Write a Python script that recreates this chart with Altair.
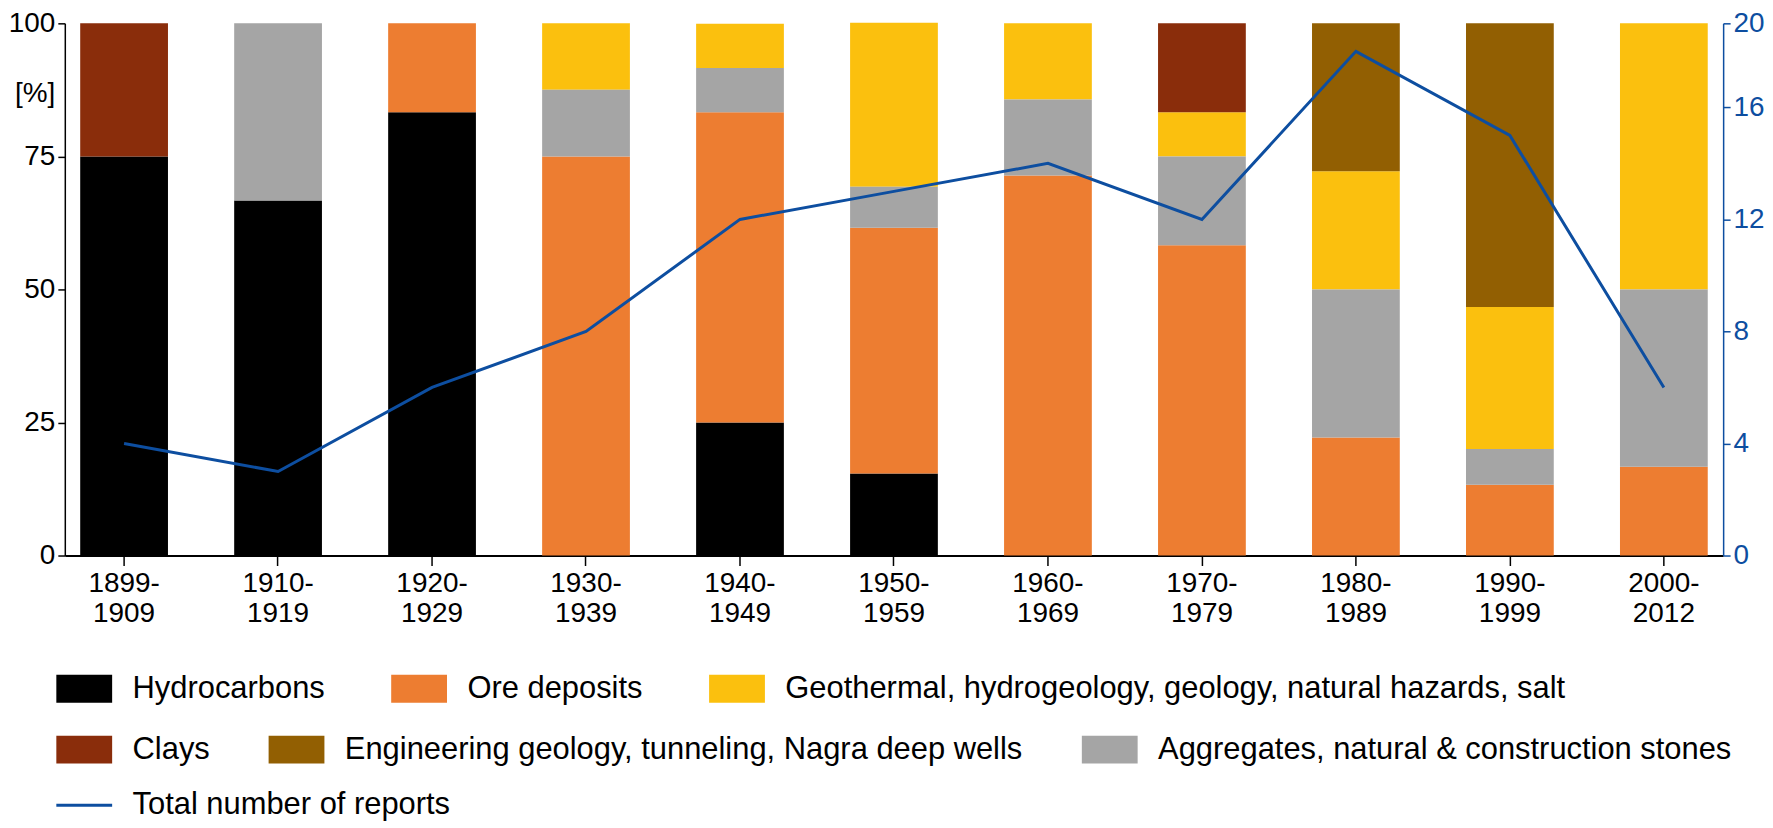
import altair as alt
import pandas as pd

# ---------------- data ----------------
decades = ["1899-1909", "1910-1919", "1920-1929", "1930-1939", "1940-1949",
           "1950-1959", "1960-1969", "1970-1979", "1980-1989", "1990-1999",
           "2000-2012"]

hydrocarbons = [75.0, 66.7, 83.3, 0.0, 25.0, 15.4, 0.0, 0.0, 0.0, 0.0, 0.0]
ore_deposits = [0.0, 0.0, 16.7, 75.0, 58.3, 46.2, 71.4, 58.3, 22.2, 13.3, 16.7]
aggregates = [0.0, 33.3, 0.0, 12.5, 8.3, 7.7, 14.3, 16.7, 27.8, 6.7, 33.3]
geothermal = [0.0, 0.0, 0.0, 12.5, 8.3, 30.8, 14.3, 8.3, 22.2, 26.7, 50.0]
engineering = [0.0, 0.0, 0.0, 0.0, 0.0, 0.0, 0.0, 0.0, 27.8, 53.3, 0.0]
clays = [25.0, 0.0, 0.0, 0.0, 0.0, 0.0, 0.0, 16.7, 0.0, 0.0, 0.0]

total_reports = [4, 3, 6, 8, 12, 13, 14, 12, 18, 15, 6]

CAT_HYDRO = "Hydrocarbons"
CAT_ORE = "Ore deposits"
CAT_GEO = "Geothermal, hydrogeology, geology, natural hazards, salt"
CAT_CLAY = "Clays"
CAT_ENG = "Engineering geology, tunneling, Nagra deep wells"
CAT_AGG = "Aggregates, natural & construction stones"
LINE_NAME = "Total number of reports"

# stacking order, bottom to top
stack_order = [
    (CAT_HYDRO, hydrocarbons),
    (CAT_ORE, ore_deposits),
    (CAT_AGG, aggregates),
    (CAT_GEO, geothermal),
    (CAT_ENG, engineering),
    (CAT_CLAY, clays),
]

legend_row1 = [CAT_HYDRO, CAT_ORE, CAT_GEO]
legend_row1_colors = ["#000000", "#ED7D31", "#FBC00E"]
legend_row2 = [CAT_CLAY, CAT_ENG, CAT_AGG]
legend_row2_colors = ["#8A2D0B", "#925F02", "#A5A5A5"]
LINE_COLOR = "#0D4EA0"

rows = []
for order, (cat, vals) in enumerate(stack_order):
    for d, v in zip(decades, vals):
        rows.append({"decade": d, "category": cat, "pct": v, "order": order})
df = pd.DataFrame(rows)
df_line = pd.DataFrame({"decade": decades, "total": total_reports,
                        "series": [LINE_NAME] * len(decades)})

# ---------------- styling ----------------
FONT = "Liberation Sans"
AX_FS = 28
LEG_FS = 31
SYM_RECT = "M-2,-1H2V1H-2Z"
SYM_LINE = "M-2,0H2"

x_enc = alt.X(
    "decade:N", sort=decades,
    scale=alt.Scale(paddingInner=0.43, paddingOuter=0.10),
    axis=alt.Axis(title=None, labelAngle=0,
                  labelExpr="[slice(datum.value,0,5), slice(datum.value,5)]",
                  tickSize=10, labelPadding=4, labelLineHeight=30,
                  domainWidth=2, domainColor="black", tickColor="black",
                  tickWidth=1.5, labelColor="black", labelFontSize=AX_FS),
)

y_left = alt.Scale(domain=[0, 100], nice=False)
y_left_axis = alt.Axis(values=[0, 25, 50, 75, 100], title="[%]", titleAngle=0,
                       titleAlign="right", titleBaseline="middle",
                       titleX=-10, titleY=70, titleFontWeight="normal",
                       titleFontSize=AX_FS, titleColor="black",
                       tickSize=7, labelPadding=3, domainColor="black",
                       tickColor="black", domainWidth=1.5, tickWidth=1.5,
                       grid=False, labelColor="black", labelFlush=False,
                       labelFontSize=AX_FS)


def legend(y, **kw):
    base = dict(title=None, orient="none", legendX=4, legendY=y,
                direction="horizontal", symbolType=SYM_RECT, symbolSize=784,
                symbolStrokeWidth=0, labelFontSize=LEG_FS, labelFont=FONT,
                labelColor="black", labelOffset=33, columnPadding=58,
                padding=0, labelLimit=2000, symbolOpacity=1)
    base.update(kw)
    return alt.Legend(**base)


base = alt.Chart(df).transform_filter("datum.pct > 0").transform_stack(
    stack="pct", groupby=["decade"], as_=["y0", "y1"],
    sort=[alt.SortField("order", order="ascending")],
)

bars_a = base.transform_filter(
    alt.FieldOneOfPredicate(field="category", oneOf=legend_row1)
).mark_bar().encode(
    x=x_enc,
    y=alt.Y("y0:Q", scale=y_left, axis=y_left_axis),
    y2="y1:Q",
    fill=alt.Fill("category:N",
                  scale=alt.Scale(domain=legend_row1, range=legend_row1_colors),
                  legend=legend(652, columnPadding=66)),
)

bars_b = base.transform_filter(
    alt.FieldOneOfPredicate(field="category", oneOf=legend_row2)
).mark_bar().encode(
    x=x_enc,
    y=alt.Y("y0:Q", scale=y_left, axis=y_left_axis),
    y2="y1:Q",
    color=alt.Color("category:N",
                    scale=alt.Scale(domain=legend_row2, range=legend_row2_colors),
                    legend=legend(713)),
)

line = alt.Chart(df_line).mark_line(strokeWidth=3).encode(
    x=x_enc,
    y=alt.Y("total:Q", scale=alt.Scale(domain=[0, 19], nice=False),
            axis=alt.Axis(orient="right", values=[0, 4, 8, 12, 16, 19],
                          labelExpr="datum.value == 19 ? '20' : datum.label",
                          title=None, domainColor=LINE_COLOR,
                          tickColor=LINE_COLOR, labelColor=LINE_COLOR,
                          tickSize=7, labelPadding=3, domainWidth=1.5,
                          tickWidth=1.5, grid=False, labelFlush=False,
                          labelFontSize=AX_FS)),
    stroke=alt.Stroke("series:N",
                      scale=alt.Scale(domain=[LINE_NAME], range=[LINE_COLOR]),
                      legend=legend(769, symbolType=SYM_LINE,
                                    symbolStrokeWidth=3,
                                    symbolStrokeColor=LINE_COLOR)),
)

chart = alt.layer(alt.layer(bars_a, bars_b), line).resolve_scale(
    y="independent"
).properties(
    width=1664, height=534, padding=0
).configure(font=FONT).configure_view(stroke=None).configure_axis(
    labelFont=FONT, titleFont=FONT
)

chart.save("out.html", embed_options={"renderer": "svg", "actions": False})
